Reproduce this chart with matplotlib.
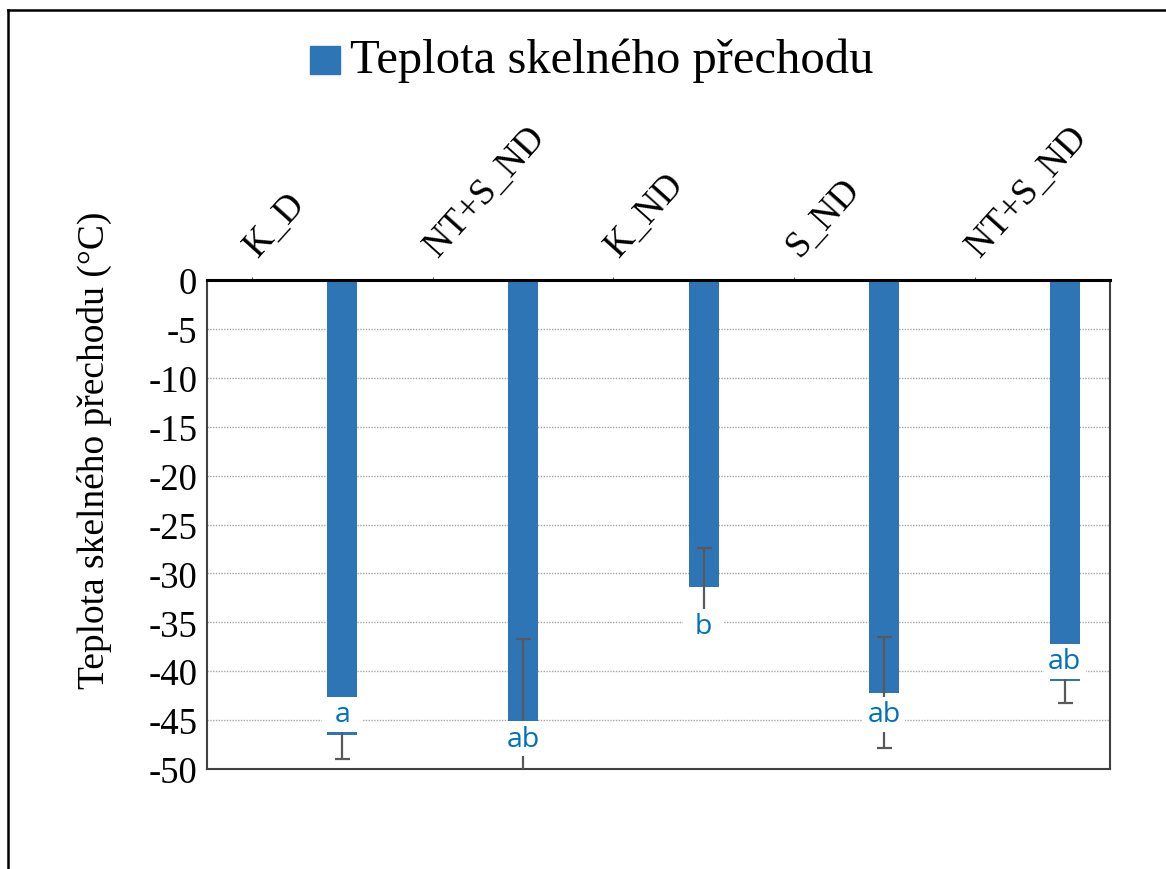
import matplotlib
matplotlib.use("Agg")
import matplotlib.pyplot as plt
from matplotlib.lines import Line2D
import numpy as np

categories = ["K_D", "NT+S_ND", "K_ND", "S_ND", "NT+S_ND"]
tg_values = [-46.5, -45.2, -31.4, -42.2, -41.05]
tg_errors = [2.5, 8.5, 4.0, 5.7, 2.2]
group_letters = ["a", "ab", "b", "ab", "ab"]
letter_y = [-44.4, -46.9, -35.4, -44.4, -39.0]
y_ticks = [0, -5, -10, -15, -20, -25, -30, -35, -40, -45, -50]

bar_color = "#2E75B6"
letter_color = "#0070C0"
err_color = "#595959"
serif = "Liberation Serif"

W, H = 1166, 870
fig = plt.figure(figsize=(W / 100, H / 100), dpi=100)
ax = fig.add_axes([207 / W, 1 - 770 / H, (1110 - 207) / W, (770 - 281) / H])

x = np.arange(len(categories))
ax.bar(x, tg_values, width=0.166, color=bar_color, zorder=2)
ax.errorbar(x, tg_values, yerr=tg_errors, fmt="none", ecolor=err_color,
            elinewidth=1.6, capsize=5.4, capthick=1.6, zorder=3)

# data labels with white background box (Excel style)
for xi, yi, lab in zip(x, letter_y, group_letters):
    ax.add_patch(plt.Rectangle((xi - 0.115, yi - 1.8), 0.23, 3.6,
                               facecolor="white", edgecolor="none", zorder=4))
    ax.text(xi, yi, lab, ha="center", va="center", fontsize=20.5,
            family="Open Sans", color=letter_color, zorder=5)

ax.set_xlim(-0.75, 4.25)
ax.set_ylim(-50, 0)
ax.set_yticks(y_ticks)
ax.set_yticklabels([str(t) for t in y_ticks], family=serif, fontsize=26.5)
ax.tick_params(axis="y", length=0, pad=7)
ax.set_xticks(x - 0.5)
ax.tick_params(axis="x", bottom=False, top=True, labelbottom=False,
               labeltop=False, direction="out", length=2, color=err_color)

ax.yaxis.grid(True, linestyle=(0, (1, 1)), color="#A6A6A6", linewidth=1)
ax.set_axisbelow(True)

for side in ["left", "right", "bottom"]:
    ax.spines[side].set_color("#404040")
    ax.spines[side].set_linewidth(1.5)
ax.spines["top"].set_color("black")
ax.spines["top"].set_linewidth(2.2)
ax.spines["top"].set_zorder(6)

# category labels above the top axis
for xi, lab in zip(x, categories):
    ax.text(xi - 0.47, 1.047, lab, transform=ax.get_xaxis_transform(),
            rotation=48, rotation_mode="anchor", ha="left", va="baseline",
            family=serif, fontsize=26.5)

ax.set_ylabel("Teplota skelného přechodu (°C)", family=serif, fontsize=27)
ax.yaxis.set_label_coords(-0.105, 0.654)

# legend
fig.patches.append(plt.Rectangle((310 / W, 1 - 75 / H), 30 / W, 28 / H,
                                 transform=fig.transFigure, color=bar_color))
fig.text(350 / W, 1 - 61 / H, "Teplota skelného přechodu", family=serif,
         fontsize=35, va="center", ha="left")

# outer chart border (only left/top visible)
fig.add_artist(Line2D([8 / W, 8 / W], [0, 1 - 11 / H], color="black",
                      lw=1.8, transform=fig.transFigure))
fig.add_artist(Line2D([8 / W, 1], [1 - 11 / H, 1 - 11 / H], color="black",
                      lw=1.8, transform=fig.transFigure))

fig.savefig("out.png", dpi=100)
